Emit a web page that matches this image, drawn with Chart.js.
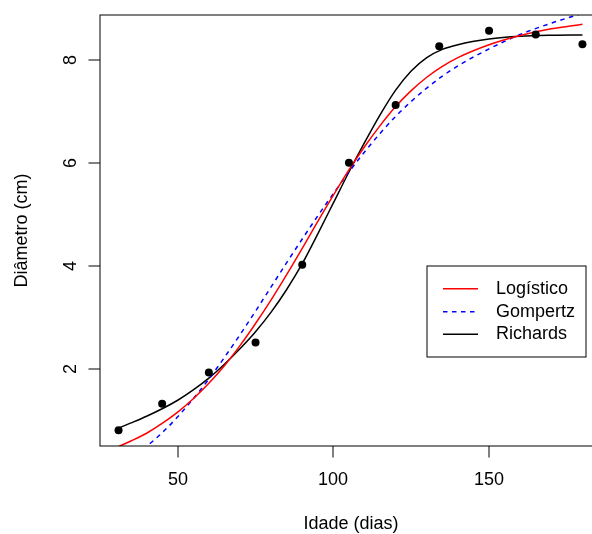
<!DOCTYPE html>
<html><head><meta charset="utf-8">
<script src="https://cdn.jsdelivr.net/npm/chart.js@4/dist/chart.umd.min.js"></script>
<style>
html,body{margin:0;padding:0;background:#fff;overflow:hidden;}
#wrap{width:592px;height:534px;overflow:hidden;position:relative;}
canvas{display:block;}
</style>
</head><body>
<div id="wrap"><canvas id="c" width="610" height="534" style="width:610px;height:534px"></canvas></div>
<script>
// observed data
const days = [31, 45, 60, 75, 90, 105, 120, 134, 150, 165, 180];
const diameter = [0.82, 1.33, 1.94, 2.52, 4.03, 6.01, 7.13, 8.27, 8.57, 8.50, 8.31];
// fitted curves
const curveDays = [31, 35, 40, 45, 50, 55, 60, 65, 70, 75, 80, 85, 90, 95, 100, 105, 110, 115, 120, 125, 130, 135, 140, 150, 160, 170, 180];
const logistico = [0.50, 0.61, 0.76, 0.95, 1.17, 1.43, 1.73, 2.07, 2.46, 2.89, 3.35, 3.84, 4.35, 4.87, 5.38, 5.87, 6.32, 6.73, 7.10, 7.41, 7.67, 7.88, 8.05, 8.30, 8.48, 8.61, 8.70];
const gompertz  = [0.22, 0.33, 0.51, 0.77, 1.08, 1.43, 1.81, 2.23, 2.67, 3.13, 3.60, 4.07, 4.53, 4.98, 5.41, 5.83, 6.22, 6.58, 6.91, 7.20, 7.46, 7.69, 7.89, 8.22, 8.50, 8.72, 8.91];
const richards  = [0.86, 0.96, 1.09, 1.235, 1.40, 1.60, 1.83, 2.10, 2.40, 2.73, 3.11, 3.55, 4.05, 4.63, 5.23, 5.83, 6.40, 6.94, 7.42, 7.79, 8.05, 8.21, 8.30, 8.41, 8.465, 8.485, 8.49];
// axes
const xTicks = [50, 100, 150];
const yTicks = [2, 4, 6, 8];
const seriesNames = ['Logístico', 'Gompertz', 'Richards'];
const xTitle = 'Idade (dias)';
const yTitle = 'Diâmetro (cm)';

const FONT = '18px "Liberation Sans", Arial, Helvetica, sans-serif';
const colors = ['#ff0000', '#0000ff', '#000000'];
const dashes = [[], [4.5, 4.5], []];

function pts(xs, ys) { return xs.map((x, i) => ({x: x, y: ys[i]})); }

const curveStyle = (i) => ({
  type: 'line', borderColor: colors[i], borderWidth: 1.5, borderDash: dashes[i],
  pointRadius: 0, fill: false, cubicInterpolationMode: 'monotone', order: 2
});

const axesPlugin = {
  id: 'rAxes',
  afterDraw(chart) {
    const ctx = chart.ctx, a = chart.chartArea;
    const xs = chart.scales.x, ys = chart.scales.y;
    ctx.save();
    ctx.strokeStyle = '#000'; ctx.lineWidth = 1;
    ctx.strokeRect(a.left, a.top, a.right - a.left, a.bottom - a.top);
    ctx.fillStyle = '#000'; ctx.font = FONT;
    // x ticks
    ctx.textAlign = 'center'; ctx.textBaseline = 'middle';
    xTicks.forEach(v => {
      const px = Math.round(xs.getPixelForValue(v));
      ctx.beginPath(); ctx.moveTo(px, a.bottom); ctx.lineTo(px, a.bottom + 11.5); ctx.stroke();
      ctx.fillText(String(v), px, 480);
    });
    // y ticks (rotated labels)
    yTicks.forEach(v => {
      const py = Math.round(ys.getPixelForValue(v));
      ctx.beginPath(); ctx.moveTo(a.left - 11.5, py); ctx.lineTo(a.left, py); ctx.stroke();
      ctx.save(); ctx.translate(71, py); ctx.rotate(-Math.PI / 2);
      ctx.fillText(String(v), 0, 0); ctx.restore();
    });
    // titles
    ctx.fillText(xTitle, 351, 524);
    ctx.save(); ctx.translate(22.5, (a.top + a.bottom) / 2); ctx.rotate(-Math.PI / 2);
    ctx.fillText(yTitle, 0, 0); ctx.restore();
    // legend
    ctx.strokeRect(427, 266, 159, 91);
    const rows = [288.7, 311.7, 334.3];
    ctx.textAlign = 'left';
    seriesNames.forEach((n, i) => {
      ctx.save();
      ctx.strokeStyle = colors[i]; ctx.lineWidth = 1.5; ctx.setLineDash(dashes[i]);
      ctx.beginPath(); ctx.moveTo(443, rows[i]); ctx.lineTo(478, rows[i]); ctx.stroke();
      ctx.restore();
      ctx.fillText(n, 496, rows[i]);
    });
    ctx.restore();
  }
};

new Chart(document.getElementById('c'), {
  data: {
    datasets: [
      {type: 'scatter', label: 'Observado', data: pts(days, diameter), backgroundColor: '#000',
       borderWidth: 0, pointRadius: 4, pointHoverRadius: 4, order: 1},
      Object.assign({label: seriesNames[0], data: pts(curveDays, logistico)}, curveStyle(0)),
      Object.assign({label: seriesNames[1], data: pts(curveDays, gompertz)}, curveStyle(1)),
      Object.assign({label: seriesNames[2], data: pts(curveDays, richards)}, curveStyle(2))
    ]
  },
  options: {
    responsive: false, animation: false, devicePixelRatio: 1,
    layout: {padding: {left: 100, top: 15, right: 9, bottom: 88}},
    plugins: {legend: {display: false}, tooltip: {enabled: false}},
    scales: {
      x: {type: 'linear', min: 25.04, max: 185.96, display: false},
      y: {type: 'linear', min: 0.512, max: 8.878, display: false}
    }
  },
  plugins: [axesPlugin]
});
</script>
</body></html>
